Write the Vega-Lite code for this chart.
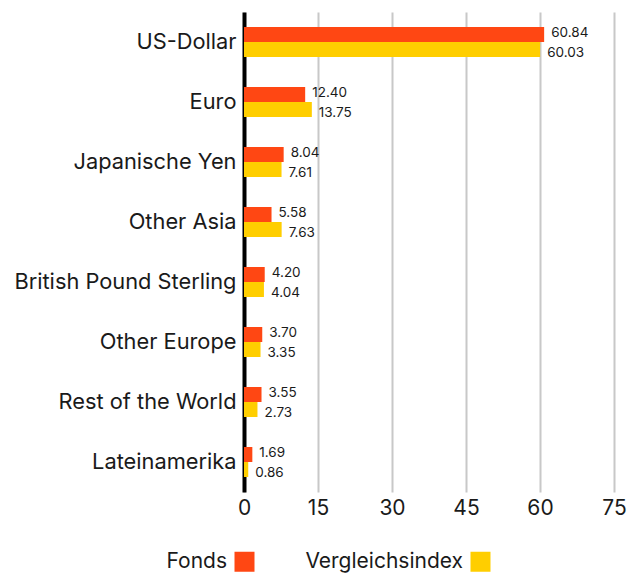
{
  "$schema": "https://vega.github.io/schema/vega-lite/v6.json",
  "width": 370,
  "height": 480,
  "autosize": "none",
  "padding": {"left": 244, "top": 12, "right": 30, "bottom": 82},
  "config": {"font": "Inter", "view": {"stroke": null}},
  "data": {"values": [
    {"currency": "US-Dollar", "series": "Fonds", "value": 60.84},
    {"currency": "US-Dollar", "series": "Vergleichsindex", "value": 60.03},
    {"currency": "Euro", "series": "Fonds", "value": 12.40},
    {"currency": "Euro", "series": "Vergleichsindex", "value": 13.75},
    {"currency": "Japanische Yen", "series": "Fonds", "value": 8.04},
    {"currency": "Japanische Yen", "series": "Vergleichsindex", "value": 7.61},
    {"currency": "Other Asia", "series": "Fonds", "value": 5.58},
    {"currency": "Other Asia", "series": "Vergleichsindex", "value": 7.63},
    {"currency": "British Pound Sterling", "series": "Fonds", "value": 4.20},
    {"currency": "British Pound Sterling", "series": "Vergleichsindex", "value": 4.04},
    {"currency": "Other Europe", "series": "Fonds", "value": 3.70},
    {"currency": "Other Europe", "series": "Vergleichsindex", "value": 3.35},
    {"currency": "Rest of the World", "series": "Fonds", "value": 3.55},
    {"currency": "Rest of the World", "series": "Vergleichsindex", "value": 2.73},
    {"currency": "Lateinamerika", "series": "Fonds", "value": 1.69},
    {"currency": "Lateinamerika", "series": "Vergleichsindex", "value": 0.86}
  ]},
  "encoding": {
    "y": {
      "field": "currency", "type": "nominal", "sort": null,
      "scale": {"paddingInner": 0.5, "paddingOuter": 0.25},
      "axis": {"title": null, "domain": true, "domainColor": "#000000", "domainWidth": 4, "ticks": false,
               "labelFontSize": 21.8, "labelPadding": 8, "labelColor": "#1a1a1a", "labelLimit": 400}
    },
    "yOffset": {"field": "series", "type": "nominal", "sort": ["Fonds", "Vergleichsindex"], "scale": {"paddingInner": 0, "paddingOuter": 0}},
    "x": {
      "field": "value", "type": "quantitative",
      "scale": {"domain": [0, 75], "nice": false},
      "axis": {"title": null, "values": [0, 15, 30, 45, 60, 75], "grid": true, "gridColor": "#c8c8c8", "gridWidth": 2,
               "domain": false, "ticks": false, "labelFontSize": 21, "labelPadding": 5, "labelColor": "#1a1a1a",
               "labelFlush": false}
    }
  },
  "layer": [
    {
      "mark": {"type": "bar"},
      "encoding": {
        "color": {
          "field": "series", "type": "nominal",
          "scale": {"domain": ["Fonds", "Vergleichsindex"], "range": ["#ff4713", "#ffce00"]},
          "legend": {
            "title": null, "orient": "none", "legendX": -10, "legendY": 539, "direction": "horizontal",
            "symbolType": "square", "symbolSize": 400, "symbolStrokeWidth": 0, "symbolOpacity": 1,
            "labelFontSize": 21, "labelColor": "#1a1a1a", "labelAlign": "right", "labelOffset": -28,
            "columnPadding": 50, "labelLimit": 400
          }
        }
      }
    },
    {
      "transform": [{"filter": "datum.series === 'Fonds'"}],
      "mark": {"type": "text", "align": "left", "baseline": "middle", "dx": 7, "dy": -2, "fontSize": 13.5, "color": "#1a1a1a"},
      "encoding": {"text": {"field": "value", "type": "quantitative", "format": ".2f"}}
    },
    {
      "transform": [{"filter": "datum.series === 'Vergleichsindex'"}],
      "mark": {"type": "text", "align": "left", "baseline": "middle", "dx": 7, "dy": 3, "fontSize": 13.5, "color": "#1a1a1a"},
      "encoding": {"text": {"field": "value", "type": "quantitative", "format": ".2f"}}
    }
  ]
}
